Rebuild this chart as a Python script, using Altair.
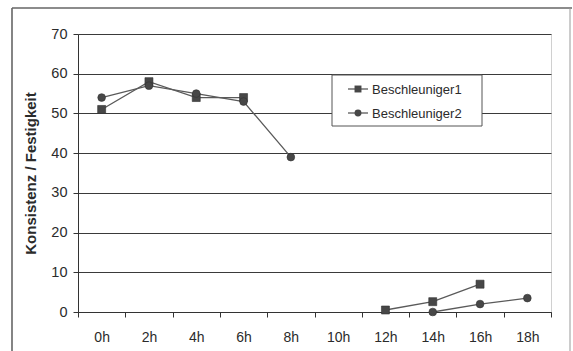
import altair as alt
import pandas as pd

# Measurement times and the two accelerator series (None = no measurement)
times = ["0h", "2h", "4h", "6h", "8h", "10h", "12h", "14h", "16h", "18h"]
series_names = ["Beschleuniger1", "Beschleuniger2"]
beschleuniger1 = [51, 58, 54, 54, None, None, 0.5, 2.6, 7, None]
beschleuniger2 = [54, 57, 55, 53, 39, None, None, 0, 2, 3.5]
y_ticks = [0, 10, 20, 30, 40, 50, 60, 70]

FONT = "Liberation Sans"
TEXT = "#2b2b2b"
LINE = "#5a5a5a"
MARK = "#474747"

# Long table; consecutive measured points share a segment id so gaps break the lines
rows = []
for name, values in zip(series_names, [beschleuniger1, beschleuniger2]):
    seg = 0
    prev_valid = False
    for t, v in zip(times, values):
        if v is None:
            if prev_valid:
                seg += 1
            prev_valid = False
            continue
        rows.append({"Zeit": t, "Serie": name, "Wert": v, "Segment": f"{name}-{seg}"})
        prev_valid = True
df = pd.DataFrame(rows)

x_enc = alt.X(
    "Zeit:N",
    sort=times,
    scale=alt.Scale(domain=times, paddingInner=0, paddingOuter=0),
    axis=alt.Axis(
        title=None, labelAngle=0, tickBand="extent", tickSize=5, labelPadding=13,
        labelFontSize=14, labelFont=FONT, labelColor=TEXT,
        domainColor="#333", tickColor="#333", grid=False,
    ),
)
y_enc = alt.Y(
    "Wert:Q",
    scale=alt.Scale(domain=[0, 70], nice=False),
    axis=alt.Axis(
        title="Konsistenz / Festigkeit", values=y_ticks, tickSize=5, labelPadding=6,
        labelFontSize=14.5, labelFont=FONT, labelColor=TEXT,
        titleFont=FONT, titleFontSize=15, titleFontWeight="bold", titleColor=TEXT,
        titlePadding=12, domainColor="#333", tickColor="#333",
        grid=True, gridColor="#3a3a3a", gridWidth=1,
    ),
)

lines = alt.Chart(df).mark_line(color=LINE, strokeWidth=1.3).encode(
    x=x_enc, y=y_enc, detail="Segment:N", order=alt.Order("Zeit:N")
)
points = alt.Chart(df).mark_point(filled=True, opacity=1, color=MARK, stroke="#333", strokeWidth=0.6).encode(
    x=x_enc,
    y=y_enc,
    shape=alt.Shape("Serie:N", scale=alt.Scale(domain=series_names, range=["square", "circle"]), legend=None),
    size=alt.Size("Serie:N", scale=alt.Scale(domain=series_names, range=[64, 60]), legend=None),
)

# Legend drawn as a small boxed panel inside the plot
legend_df = pd.DataFrame({"Serie": series_names, "row": [0, 1]})
row_y = [55, 79]
legend_box = alt.Chart(legend_df).transform_filter("datum.row == 0").mark_rect(
    fill="white", stroke="#555", strokeWidth=1
).encode(x=alt.value(254), x2=alt.value(404), y=alt.value(41), y2=alt.value(92))

legend_layers = [legend_box]
for i, (name, shape) in enumerate(zip(series_names, ["square", "circle"])):
    sub = alt.Chart(legend_df).transform_filter(f"datum.row == {i}")
    legend_layers.append(
        sub.mark_rule(color=LINE, strokeWidth=1.3).encode(
            x=alt.value(270), x2=alt.value(290), y=alt.value(row_y[i])
        )
    )
    legend_layers.append(
        sub.mark_point(shape=shape, filled=True, opacity=1, color=MARK, size=48).encode(
            x=alt.value(280), y=alt.value(row_y[i])
        )
    )
    legend_layers.append(
        sub.mark_text(align="left", baseline="middle", font=FONT, fontSize=13, color=TEXT).encode(
            x=alt.value(294), y=alt.value(row_y[i] + 0.5), text="Serie:N"
        )
    )

# Outer frame around the whole figure
frame_src = alt.Chart(legend_df).transform_filter("datum.row == 0")
frame = [
    frame_src.mark_rule(color="#666", strokeWidth=1.6).encode(
        x=alt.value(-66), y=alt.value(-26), y2=alt.value(330)
    ),
    frame_src.mark_rule(color="#666", strokeWidth=1.6).encode(
        x=alt.value(-66), x2=alt.value(494), y=alt.value(-26)
    ),
    frame_src.mark_rule(color="#999", strokeWidth=1).encode(
        x=alt.value(492), y=alt.value(-26), y2=alt.value(330)
    ),
]

chart = alt.layer(lines, points, *legend_layers, *frame).properties(
    width=473,
    height=278,
    autosize=alt.AutoSizeParams(type="none"),
    padding={"left": 78, "top": 34, "right": 22, "bottom": 39},
    background="white",
).configure_view(stroke="#d0d0d0", strokeWidth=1)

chart.save("out.html", embed_options={"renderer": "svg", "actions": False})
